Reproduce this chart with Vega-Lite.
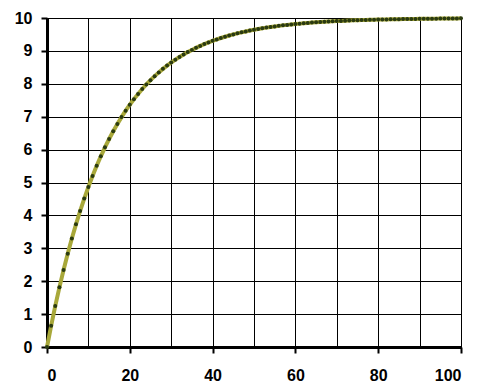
{
  "$schema": "https://vega.github.io/schema/vega-lite/v6.json",
  "width": 414,
  "height": 329,
  "autosize": {"type": "none"},
  "padding": {"left": 47, "top": 18, "right": 22, "bottom": 44},
  "background": "white",
  "config": {
    "view": {"stroke": "#888888", "strokeWidth": 1},
    "axis": {
      "labelFont": "Liberation Sans",
      "labelFontWeight": "bold",
      "labelFontSize": 16,
      "labelColor": "#000000",
      "domainColor": "#000000",
      "domainWidth": 3,
      "tickColor": "#000000",
      "tickWidth": 2,
      "tickSize": 6,
      "gridColor": "#000000",
      "gridWidth": 1,
      "gridOpacity": 1,
      "title": null
    }
  },
  "data": {"values": [
    {"x":0,"y":0},{"x":1,"y":0.645},{"x":2,"y":1.248},{"x":3,"y":1.813},{"x":4,"y":2.341},{"x":5,"y":2.835},
    {"x":6,"y":3.297},{"x":7,"y":3.729},{"x":8,"y":4.134},{"x":9,"y":4.512},{"x":10,"y":4.866},
    {"x":11,"y":5.197},{"x":12,"y":5.507},{"x":13,"y":5.796},{"x":14,"y":6.068},{"x":15,"y":6.321},
    {"x":16,"y":6.558},{"x":17,"y":6.780},{"x":18,"y":6.988},{"x":19,"y":7.182},{"x":20,"y":7.364},
    {"x":21,"y":7.534},{"x":22,"y":7.693},{"x":23,"y":7.842},{"x":24,"y":7.981},{"x":25,"y":8.111},
    {"x":26,"y":8.233},{"x":27,"y":8.347},{"x":28,"y":8.454},{"x":29,"y":8.553},{"x":30,"y":8.647},
    {"x":31,"y":8.734},{"x":32,"y":8.816},{"x":33,"y":8.892},{"x":34,"y":8.963},{"x":35,"y":9.030},
    {"x":36,"y":9.093},{"x":37,"y":9.151},{"x":38,"y":9.206},{"x":39,"y":9.257},{"x":40,"y":9.305},
    {"x":41,"y":9.350},{"x":42,"y":9.392},{"x":43,"y":9.431},{"x":44,"y":9.468},{"x":45,"y":9.502},
    {"x":46,"y":9.534},{"x":47,"y":9.564},{"x":48,"y":9.592},{"x":49,"y":9.619},{"x":50,"y":9.643},
    {"x":51,"y":9.666},{"x":52,"y":9.688},{"x":53,"y":9.708},{"x":54,"y":9.727},{"x":55,"y":9.744},
    {"x":56,"y":9.761},{"x":57,"y":9.776},{"x":58,"y":9.791},{"x":59,"y":9.804},{"x":60,"y":9.817},
    {"x":61,"y":9.829},{"x":62,"y":9.840},{"x":63,"y":9.850},{"x":64,"y":9.860},{"x":65,"y":9.869},
    {"x":66,"y":9.877},{"x":67,"y":9.885},{"x":68,"y":9.893},{"x":69,"y":9.899},{"x":70,"y":9.906},
    {"x":71,"y":9.912},{"x":72,"y":9.918},{"x":73,"y":9.923},{"x":74,"y":9.928},{"x":75,"y":9.933},
    {"x":76,"y":9.937},{"x":77,"y":9.941},{"x":78,"y":9.945},{"x":79,"y":9.948},{"x":80,"y":9.952},
    {"x":81,"y":9.955},{"x":82,"y":9.958},{"x":83,"y":9.960},{"x":84,"y":9.963},{"x":85,"y":9.965},
    {"x":86,"y":9.968},{"x":87,"y":9.970},{"x":88,"y":9.972},{"x":89,"y":9.973},{"x":90,"y":9.975},
    {"x":91,"y":9.977},{"x":92,"y":9.978},{"x":93,"y":9.980},{"x":94,"y":9.981},{"x":95,"y":9.982},
    {"x":96,"y":9.983},{"x":97,"y":9.984},{"x":98,"y":9.985},{"x":99,"y":9.986},{"x":100,"y":9.995}
  ]},
  "encoding": {
    "x": {
      "field": "x", "type": "quantitative",
      "scale": {"domain": [0, 100], "nice": false},
      "axis": {
        "values": [0,10,20,30,40,50,60,70,80,90,100],
        "grid": true,
        "labelPadding": 14,
        "labelExpr": "datum.value % 20 === 0 ? datum.label : ''",
        "tickOpacity": {"condition": {"test": "datum.value % 20 !== 0", "value": 0}, "value": 1}
      }
    },
    "y": {
      "field": "y", "type": "quantitative",
      "scale": {"domain": [0, 10], "nice": false},
      "axis": {
        "values": [0,1,2,3,4,5,6,7,8,9,10],
        "grid": true,
        "labelPadding": 9
      }
    }
  },
  "layer": [
    {"mark": {"type": "line", "color": "#a8a83a", "strokeWidth": 4}},
    {"mark": {"type": "point", "filled": true, "color": "#2a3a10", "size": 16, "opacity": 1}}
  ]
}
